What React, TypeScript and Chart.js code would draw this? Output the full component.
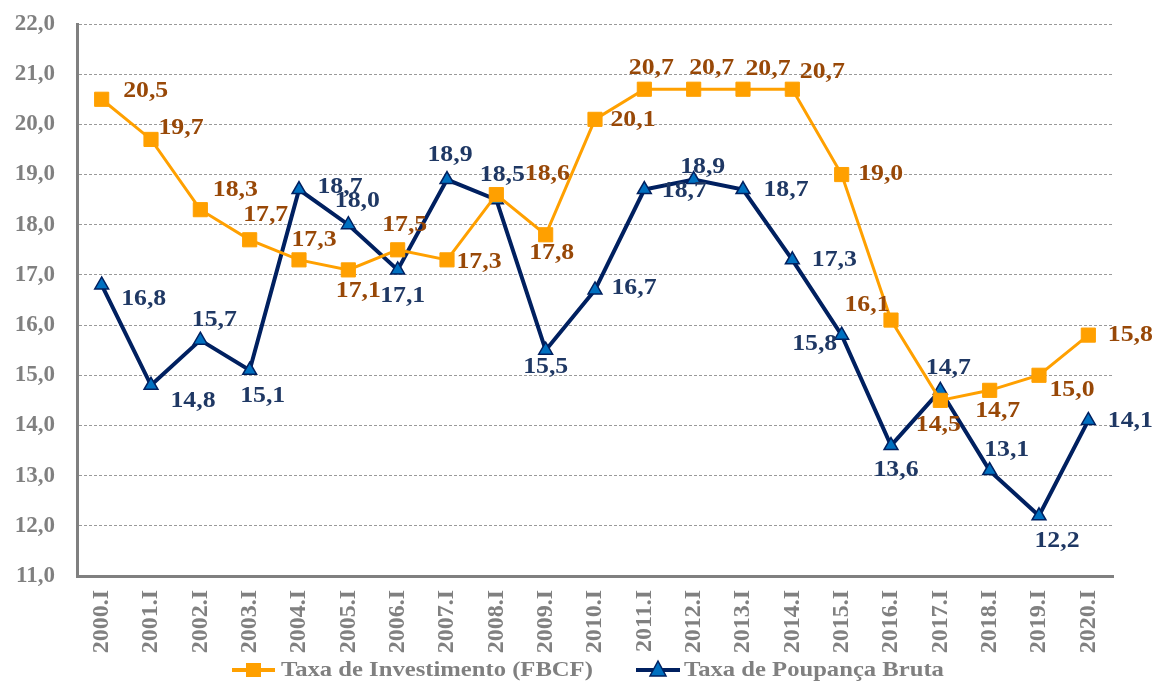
import React, { useEffect, useRef } from "react";
import { Chart, registerables } from "chart.js";

Chart.register(...registerables);

const categories = ["2000.I","2001.I","2002.I","2003.I","2004.I","2005.I","2006.I","2007.I","2008.I","2009.I","2010.I","2011.I","2012.I","2013.I","2014.I","2015.I","2016.I","2017.I","2018.I","2019.I","2020.I"];
const investimento = [20.5,19.7,18.3,17.7,17.3,17.1,17.5,17.3,18.6,17.8,20.1,20.7,20.7,20.7,20.7,19.0,16.1,14.5,14.7,15.0,15.8];
const poupanca = [16.8,14.8,15.7,15.1,18.7,18.0,17.1,18.9,18.5,15.5,16.7,18.7,18.9,18.7,17.3,15.8,13.6,14.7,13.1,12.2,14.1];
const seriesNames = ["Taxa de Investimento (FBCF)", "Taxa de Poupança Bruta"];
const yMin = 11;
const yMax = 22;

// label offsets (dx, dy) from each point, in pixels
const invLabelOffsets: [number, number][] = [[44,-8],[30,-11],[35,-20],[16,-25],[15,-20],[10,21],[7,-25],[32,2],[51,-21],[6,18],[38,1],[7,-21],[18,-21],[25,-20],[30,-17],[39,0],[-24,-15],[-2,25],[8,21],[33,15],[42,0]];
const poupLabelOffsets: [number, number][] = [[42,14],[42,16],[14,-20],[13,26],[41,-3],[9,-24],[5,26],[3,-25],[6,-25],[0,17],[39,-2],[40,1],[9,-13],[43,0],[42,0],[-27,9],[5,25],[8,-22],[17,-21],[18,25],[42,1]];

const ORANGE = "#FFA000";
const NAVY = "#002060";
const TRI_FILL = "#0070C0";
const ORANGE_TXT = "#984807";
const NAVY_TXT = "#1F3864";
const GRAY = "#808080";
const FONT = "'Liberation Serif', 'Times New Roman', serif";
const STRETCH = 1.12;

const fmt = (v: number) => v.toFixed(1).replace(".", ",");

function stretchedText(ctx: any, text: string, x: number, y: number) {
  ctx.save();
  ctx.translate(x, y);
  ctx.scale(STRETCH, 1);
  ctx.fillText(text, 0, 0);
  ctx.restore();
}

const labelsPlugin = {
  id: "valueLabels",
  afterDatasetsDraw(chart: any) {
    const ctx = chart.ctx;
    ctx.save();
    ctx.font = `bold 23px ${FONT}`;
    ctx.textAlign = "center";
    ctx.textBaseline = "middle";
    const configs = [
      { idx: 0, color: ORANGE_TXT, offs: invLabelOffsets },
      { idx: 1, color: NAVY_TXT, offs: poupLabelOffsets },
    ];
    for (const c of configs) {
      const meta = chart.getDatasetMeta(c.idx);
      const data = chart.data.datasets[c.idx].data as number[];
      ctx.fillStyle = c.color;
      meta.data.forEach((pt: any, i: number) => {
        const [dx, dy] = c.offs[i];
        stretchedText(ctx, fmt(data[i]), pt.x + dx, pt.y + dy);
      });
    }
    ctx.restore();
  },
};

const legendPlugin = {
  id: "customLegend",
  afterDraw(chart: any) {
    const ctx = chart.ctx;
    const y = 670;
    ctx.save();
    ctx.strokeStyle = ORANGE;
    ctx.lineWidth = 4;
    ctx.beginPath();
    ctx.moveTo(232, y);
    ctx.lineTo(275, y);
    ctx.stroke();
    ctx.fillStyle = ORANGE;
    ctx.fillRect(246, y - 7, 15, 14);
    ctx.strokeStyle = NAVY;
    ctx.beginPath();
    ctx.moveTo(636, y);
    ctx.lineTo(680, y);
    ctx.stroke();
    ctx.fillStyle = TRI_FILL;
    ctx.strokeStyle = NAVY;
    ctx.lineWidth = 1.5;
    ctx.beginPath();
    ctx.moveTo(658, y - 9);
    ctx.lineTo(666, y + 6);
    ctx.lineTo(650, y + 6);
    ctx.closePath();
    ctx.fill();
    ctx.stroke();
    ctx.font = `bold 22px ${FONT}`;
    ctx.fillStyle = GRAY;
    ctx.textAlign = "left";
    ctx.textBaseline = "middle";
    stretchedText(ctx, seriesNames[0], 281, y);
    stretchedText(ctx, seriesNames[1], 684, y);
    ctx.restore();
  },
};

export default function App() {
  const ref = useRef<HTMLCanvasElement | null>(null);
  useEffect(() => {
    if (!ref.current) return;
    const chart = new Chart(ref.current, {
      type: "line",
      data: {
        labels: categories,
        datasets: [
          {
            label: seriesNames[0],
            data: investimento,
            borderColor: ORANGE,
            backgroundColor: ORANGE,
            borderWidth: 3,
            pointStyle: "rect",
            pointRadius: 10,
            pointBackgroundColor: ORANGE,
            pointBorderColor: ORANGE,
            pointBorderWidth: 1,
            tension: 0,
          },
          {
            label: seriesNames[1],
            data: poupanca,
            borderColor: NAVY,
            backgroundColor: TRI_FILL,
            borderWidth: 4,
            pointStyle: "triangle",
            pointRadius: 8,
            pointBackgroundColor: TRI_FILL,
            pointBorderColor: NAVY,
            pointBorderWidth: 1.5,
            tension: 0,
          },
        ],
      },
      options: {
        animation: false,
        responsive: true,
        maintainAspectRatio: false,
        layout: { padding: { top: 24, right: 40, bottom: 27, left: 0 } },
        plugins: {
          legend: { display: false },
          tooltip: { enabled: false },
        },
        scales: {
          x: {
            offset: true,
            grid: { display: false, drawTicks: false },
            border: { display: true, color: GRAY, width: 3 },
            ticks: {
              color: GRAY,
              font: { family: FONT, weight: "bold", size: 24 },
              maxRotation: 90,
              minRotation: 90,
              padding: 14,
              autoSkip: false,
            },
            afterFit(scale: any) {
              scale.height = 80;
            },
          },
          y: {
            min: yMin,
            max: yMax,
            grid: {
              color: "#9a9a9a",
              lineWidth: 1,
              drawTicks: false,
            },
            border: { display: true, color: GRAY, width: 3, dash: [3, 2] },
            ticks: {
              stepSize: 1,
              color: GRAY,
              font: { family: FONT, weight: "bold", size: 23 },
              padding: 22,
              callback: (v: any) => fmt(Number(v)),
            },
            afterFit(scale: any) {
              scale.width = 77;
              scale.paddingTop = 0;
            },
          },
        },
      },
      plugins: [labelsPlugin, legendPlugin],
    } as any);
    return () => chart.destroy();
  }, []);
  return (
    <div style={{ position: "absolute", left: 0, top: 0, width: 1153, height: 683, background: "#fff" }}>
      <canvas ref={ref} />
    </div>
  );
}
